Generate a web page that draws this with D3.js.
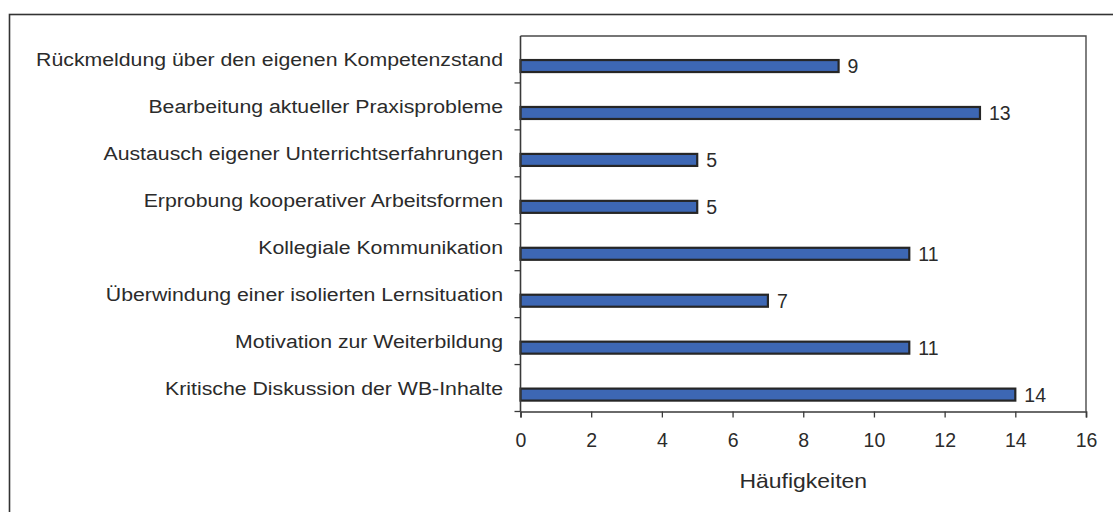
<!DOCTYPE html>
<html>
<head>
<meta charset="utf-8">
<script src="https://cdn.jsdelivr.net/npm/d3@7"></script>
<style>
  body { margin: 0; background: #fff; }
  svg { display: block; font-family: "Liberation Sans", Arial, sans-serif; }
</style>
</head>
<body>
<svg id="chart" width="1113" height="512"></svg>
<script>
const categories = [
  "Rückmeldung über den eigenen Kompetenzstand",
  "Bearbeitung aktueller Praxisprobleme",
  "Austausch eigener Unterrichtserfahrungen",
  "Erprobung kooperativer Arbeitsformen",
  "Kollegiale Kommunikation",
  "Überwindung einer isolierten Lernsituation",
  "Motivation zur Weiterbildung",
  "Kritische Diskussion der WB-Inhalte"
];
const values = [9, 13, 5, 5, 11, 7, 11, 14];
const xTicks = [0, 2, 4, 6, 8, 10, 12, 14, 16];
const xTitle = "Häufigkeiten";

const plot = { left: 520.5, right: 1086, top: 36, bottom: 411.5 };
const textColor = "#2b2b2b";

const svgEl = d3.select("#chart");

// outer frame of the chart object (runs off the picture right and bottom)
svgEl.append("rect")
  .attr("x", 9.5).attr("y", 14.5)
  .attr("width", 1200).attr("height", 600)
  .attr("fill", "#fff")
  .attr("stroke", "#333")
  .attr("stroke-width", 1.6);

const xScale = d3.scaleLinear()
  .domain([0, 16])
  .range([plot.left, plot.right]);

const yScale = d3.scaleBand()
  .domain(categories)
  .range([plot.top, plot.bottom]);

const bw = yScale.bandwidth();
const barCenter = d => yScale(d) + bw * 0.64;

// plot area border (top + right)
svgEl.append("path")
  .attr("d", `M${plot.left},${plot.top}H${plot.right}V${plot.bottom}`)
  .attr("fill", "none")
  .attr("stroke", "#4a4a4a")
  .attr("stroke-width", 1.4);

// bars
svgEl.append("g")
  .selectAll("rect")
  .data(values)
  .enter()
  .append("rect")
  .attr("x", xScale(0))
  .attr("y", (d, i) => barCenter(categories[i]) - 6)
  .attr("width", d => xScale(d) - xScale(0))
  .attr("height", 12)
  .attr("fill", "#3d67b4")
  .attr("stroke", "#262626")
  .attr("stroke-width", 2.2);

// value labels
svgEl.append("g")
  .selectAll("text")
  .data(values)
  .enter()
  .append("text")
  .attr("x", d => xScale(d) + 9)
  .attr("y", (d, i) => barCenter(categories[i]) + 7)
  .attr("font-size", 19.5)
  .attr("fill", textColor)
  .text(d => d);

// x axis
const xAxis = d3.axisBottom(xScale)
  .tickValues(xTicks)
  .tickSize(6)
  .tickPadding(16)
  .tickFormat(d3.format("d"));

const gx = svgEl.append("g")
  .attr("transform", `translate(0,${plot.bottom})`)
  .call(xAxis);
gx.select(".domain").attr("stroke", "#3a3a3a").attr("stroke-width", 1.6);
gx.selectAll(".tick line").attr("stroke", "#3a3a3a").attr("stroke-width", 1.3);
gx.selectAll(".tick text")
  .attr("font-size", 19.5)
  .attr("font-family", "Liberation Sans, Arial, sans-serif")
  .attr("fill", textColor);

// y axis: line plus ticks at category boundaries
svgEl.append("line")
  .attr("x1", plot.left).attr("x2", plot.left)
  .attr("y1", plot.top).attr("y2", plot.bottom)
  .attr("stroke", "#3a3a3a")
  .attr("stroke-width", 1.6);

svgEl.append("g")
  .selectAll("line")
  .data(categories)
  .enter()
  .append("line")
  .attr("x1", plot.left - 6).attr("x2", plot.left)
  .attr("y1", d => yScale(d) + bw)
  .attr("y2", d => yScale(d) + bw)
  .attr("stroke", "#3a3a3a")
  .attr("stroke-width", 1.3);

// category labels (slightly widened, as in the original)
svgEl.append("g")
  .selectAll("text")
  .data(categories)
  .enter()
  .append("text")
  .attr("transform", d => `translate(503,${barCenter(d)}) scale(1.12,1)`)
  .attr("text-anchor", "end")
  .attr("font-size", 19)
  .attr("fill", textColor)
  .text(d => d);

// axis title
svgEl.append("text")
  .attr("transform", `translate(${(plot.left + plot.right) / 2},488) scale(1.12,1)`)
  .attr("text-anchor", "middle")
  .attr("font-size", 20.5)
  .attr("fill", textColor)
  .text(xTitle);
</script>
</body>
</html>
